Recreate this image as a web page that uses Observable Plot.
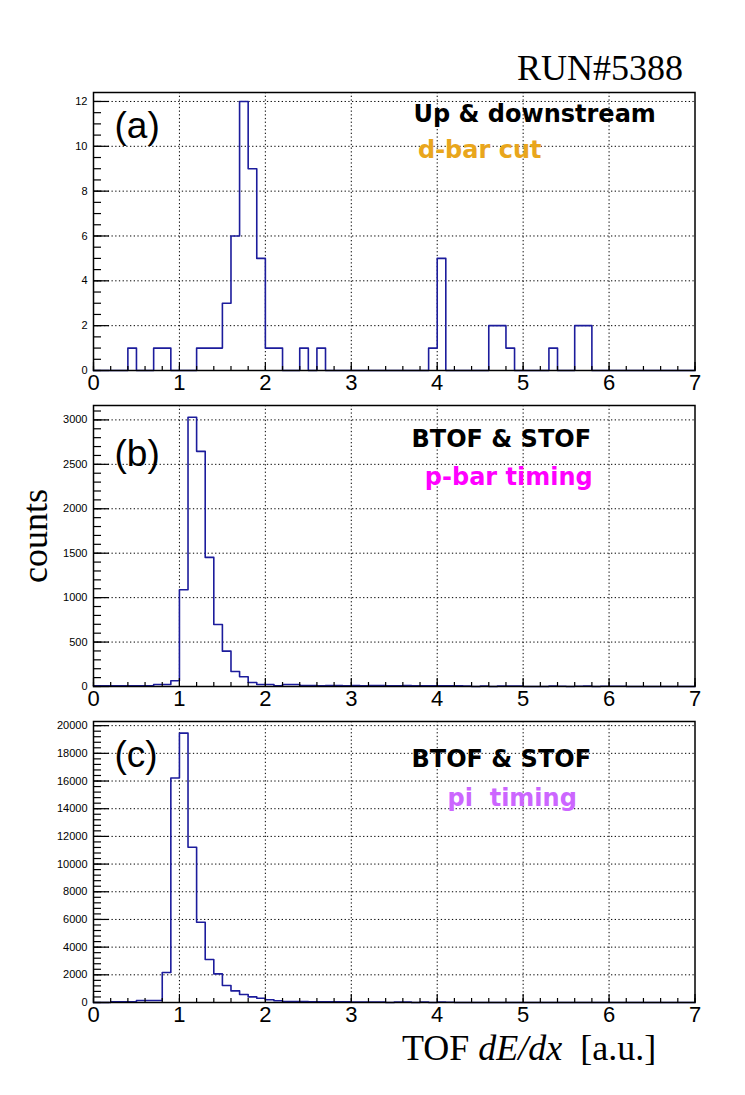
<!DOCTYPE html>
<html><head><meta charset="utf-8">
<script src="https://cdn.jsdelivr.net/npm/d3@7"></script>
<script src="https://cdn.jsdelivr.net/npm/@observablehq/plot@0.6"></script>
<style>
body{margin:0;background:#fff;}
#page{position:relative;width:745px;height:1095px;background:#fff;overflow:hidden;}
.panel{position:absolute;left:0;}
.serif{position:absolute;font-family:"Liberation Serif","Times New Roman",serif;font-size:36px;color:#000;white-space:pre;line-height:1;}
</style></head><body>
<div id="page"></div>
<script>
// ---- data ----
// histogram bins: 70 bins of width 0.1 from 0 to 7 (lower edges)
const binLow = d3.range(70).map(i => i / 10);
const xEnd = 7;

const countsA = [
  0,0,0,0,1,0,0,1,1,0,
  0,0,1,1,1,3,6,12,9,5,
  1,1,0,0,1,0,1,0,0,0,
  0,0,0,0,0,0,0,0,0,1,
  5,0,0,0,0,0,2,2,1,0,
  0,0,0,1,0,0,2,2,0,0,
  0,0,0,0,0,0,0,0,0,0];

const countsB = [
  8,8,8,8,8,8,8,22,22,64,
  1088,3029,2646,1453,698,398,169,109,45,22,
  22,8,22,22,11,10,9,12,10,8,
  10,9,11,10,9,8,10,9,8,7,
  9,8,7,6,0,4,0,5,4,5,
  0,0,0,4,3,0,3,4,0,3,
  3,2,0,0,0,0,0,0,0,0];

const countsC = [
  0,0,50,50,50,143,143,143,2166,16217,
  19460,11213,5798,3105,2065,1227,838,578,404,310,
  198,123,74,74,60,55,50,50,45,45,
  40,40,40,35,0,30,30,0,25,0,
  25,20,0,0,0,0,0,0,0,0,
  0,0,0,0,0,0,0,0,0,0,
  0,0,0,0,0,0,0,0,0,0];

const xTicks = [0,1,2,3,4,5,6,7];
const yTicksA = [0,2,4,6,8,10,12];
const yTicksB = [0,500,1000,1500,2000,2500,3000];
const yTicksC = [0,2000,4000,6000,8000,10000,12000,14000,16000,18000,20000];

const panelLabels = ["(a)","(b)","(c)"];
const annA = ["Up & downstream","d-bar cut"];
const annB = ["BTOF & STOF","p-bar timing"];
const annC = ["BTOF & STOF","pi  timing"];
const runLabel = "RUN#5388";
const yTitle = "counts";

// ---- drawing ----
const page = document.getElementById("page");
const xMinor = d3.range(0, 7.0001, 0.2);
const lineColor = "#1c1c9c";
const annFont = "DejaVu Sans, Verdana, sans-serif";

function fit(svg, label, len) {
  svg.querySelectorAll(`g[aria-label="${label}"] text`).forEach(t => {
    t.setAttribute("textLength", len);
    t.setAttribute("lengthAdjust", "spacingAndGlyphs");
    t.style.whiteSpace = "pre";
  });
}

function panel(cfg) {
  const pts = binLow.map((x, i) => ({x, y: cfg.counts[i]}));
  pts.push({x: xEnd, y: cfg.counts[cfg.counts.length - 1]});
  const yMinor = d3.range(0, cfg.ymax, cfg.minorStep);
  const grid = {stroke: "#000", strokeOpacity: 1, strokeDasharray: "1.3,2.4", strokeWidth: 1};
  const anns = cfg.ann.map((a, k) =>
    Plot.text([a.text], {text: d => d, frameAnchor: "top-left", dx: a.dx, dy: a.dy,
      textAnchor: "middle", lineAnchor: "middle", fontSize: 24, fontWeight: "bold",
      fontFamily: annFont, fill: a.color, ariaLabel: "ann" + k}));
  const svg = Plot.plot({
    width: 745, height: cfg.height,
    marginLeft: 93, marginRight: 50.5, marginTop: cfg.mt, marginBottom: cfg.mb,
    x: {domain: [0, 7], axis: null},
    y: {domain: [0, cfg.ymax], axis: null},
    style: {fontFamily: "Liberation Sans, Arial, Helvetica, sans-serif", background: "white", overflow: "visible", color: "#000"},
    marks: [
      Plot.gridX({ticks: xTicks.slice(1, -1), ...grid}),
      Plot.gridY({ticks: cfg.yTicks.slice(1), ...grid}),
      Plot.line(pts, {x: "x", y: "y", curve: "step-after", stroke: lineColor, strokeWidth: 1.6}),
      Plot.axisX({ticks: xMinor, tickSize: -4, tickFormat: () => "", label: null, strokeWidth: 1.2}),
      Plot.axisX({ticks: xTicks, tickSize: -8, tickFormat: () => "", label: null, strokeWidth: 1.2}),
      Plot.axisX({ticks: xTicks, tickSize: 0, tickPadding: 4, fontSize: 22, tickFormat: d => String(d), label: null}),
      Plot.axisY({ticks: yMinor, tickSize: -8, tickFormat: () => "", label: null, strokeWidth: 1.2}),
      Plot.axisY({ticks: cfg.yTicks, tickSize: -16, tickFormat: () => "", label: null, strokeWidth: 1.2}),
      Plot.axisY({ticks: cfg.yTicks, tickSize: 0, tickPadding: 6, fontSize: 11, tickFormat: d3.format("d"), label: null}),
      Plot.text([cfg.label], {text: d => d, frameAnchor: "top-left", dx: 21, dy: cfg.labelDy,
        textAnchor: "start", lineAnchor: "middle", fontSize: 37, fontWeight: 300,
        fontFamily: "Liberation Sans, Arial, sans-serif", fill: "#000"}),
      ...anns,
      Plot.frame({stroke: "#000", strokeWidth: 1.5})
    ]
  });
  cfg.ann.forEach((a, k) => fit(svg, "ann" + k, a.len));
  const div = document.createElement("div");
  div.className = "panel";
  div.style.top = cfg.top + "px";
  div.appendChild(svg);
  page.appendChild(div);
}

panel({counts: countsA, ymax: 12.4, yTicks: yTicksA, minorStep: 0.5, top: 60, height: 335, mt: 32, mb: 25,
  label: panelLabels[0], labelDy: 33.3,
  ann: [
    {text: annA[0], dx: 441.2, dy: 22.3, len: 245, color: "#000"},
    {text: annA[1], dx: 386.2, dy: 57.5, len: 121.7, color: "#e9a61c"}
  ]});
panel({counts: countsB, ymax: 3162, yTicks: yTicksB, minorStep: 100, top: 395, height: 316, mt: 10, mb: 25,
  label: panelLabels[1], labelDy: 48.8,
  ann: [
    {text: annB[0], dx: 407.8, dy: 34.3, len: 168, color: "#000"},
    {text: annB[1], dx: 415.3, dy: 72.3, len: 166.7, color: "#ff00ff"}
  ]});
panel({counts: countsC, ymax: 20300, yTicks: yTicksC, minorStep: 400, top: 711, height: 320, mt: 10, mb: 29,
  label: panelLabels[2], labelDy: 33.5,
  ann: [
    {text: annC[0], dx: 407.8, dy: 38.3, len: 168, color: "#000"},
    {text: annC[1], dx: 418.7, dy: 77, len: 126.7, color: "#cc66ff"}
  ]});

// serif titles
const run = document.createElement("div");
run.className = "serif";
run.style.right = "62px"; run.style.top = "50px";
run.textContent = runLabel;
page.appendChild(run);

const yt = document.createElement("div");
yt.className = "serif";
yt.style.left = "17px"; yt.style.top = "583px";
yt.style.transformOrigin = "0 0"; yt.style.transform = "rotate(-90deg)";
yt.textContent = yTitle;
page.appendChild(yt);

const xt = document.createElement("div");
xt.className = "serif";
xt.style.left = "402px"; xt.style.top = "1030px";
xt.innerHTML = "TOF <i>dE/dx</i>  [a.u.]";
page.appendChild(xt);
</script>
</body></html>
